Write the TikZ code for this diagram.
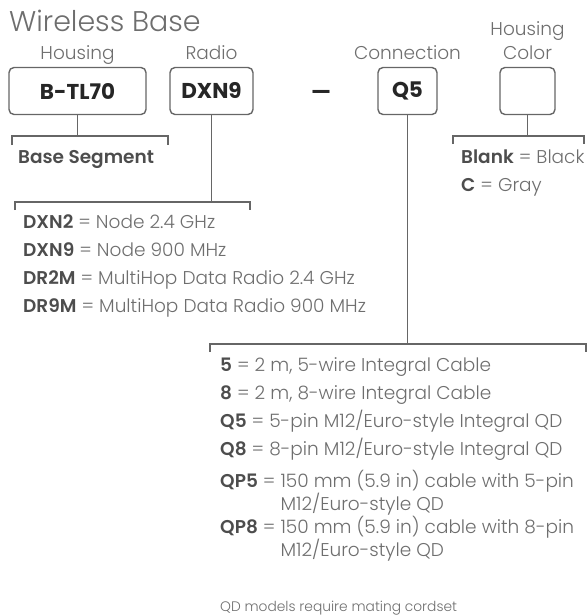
\documentclass[tikz,border=0pt]{standalone}
\usepackage{fontspec}
\setmainfont{Poppins}
\newfontfamily\lightfont{Poppins Light}
\newfontfamily\keyfont{Poppins SemiBold}
\usepackage{tikz}
\usetikzlibrary{positioning}
\definecolor{labelgray}{HTML}{6E6E6E}
\definecolor{keygray}{HTML}{4D4D4D}
\definecolor{rulegray}{HTML}{666666}
\tikzset{
  codebox/.style={draw=rulegray, line width=1.4pt, rounded corners=5pt, minimum height=47pt,
    inner sep=0pt, text=black!85, font=\fontsize{21.5}{24}\selectfont\bfseries},
  fieldlabel/.style={anchor=base, inner sep=0pt, text=labelgray, align=center,
    font=\lightfont\fontsize{18.5}{24}\selectfont},
  bracket/.style={draw=rulegray, line width=1.4pt},
  optrow/.style={anchor=base west, inner sep=0pt, text=labelgray,
    font=\lightfont\fontsize{18.5}{22}\selectfont},
}
\newcommand{\optkey}[2]{{\keyfont\color{keygray}#1} = #2}
\begin{document}
\begin{tikzpicture}[x=1pt,y=-1pt]
\useasboundingbox (0,0) rectangle (587,616);
\node[anchor=base west, inner sep=0pt, text=labelgray, font=\lightfont\fontsize{28.5}{30}\selectfont] (title) at (9,31) {Wireless Base};

\node[codebox, minimum width=137pt] (housing) at (77.5,91) {B-TL70};
\node[codebox, minimum width=83pt] (radio) at (211.5,91) {DXN9};
\node[text=black!85, font=\fontsize{21.5}{24}\selectfont\bfseries] (dash) at (321,95) {---};
\node[codebox, minimum width=59pt] (conn) at (407.5,91) {Q5};
\node[codebox, minimum width=55pt] (color) at (527.5,91) {};

\node[fieldlabel] (housinglbl) at ([yshift=7pt]housing.north) {Housing};
\node[fieldlabel] (radiolbl) at ([yshift=7pt]radio.north) {Radio};
\node[fieldlabel] (connlbl) at ([yshift=7pt]conn.north) {Connection};
\node[fieldlabel, anchor=south] (colorlbl) at ([yshift=7pt]color.north) {Housing\\Color};

\coordinate (hleft) at (12,136);
\coordinate (hright) at (168,136);
\draw[bracket] (housing.south) -- (housing.south |- hleft);
\draw[bracket] ([yshift=-9pt]hleft) -- (hleft) -- (hright) -- ([yshift=-9pt]hright);
\node[optrow, text=keygray, font=\keyfont\fontsize{18.5}{22}\selectfont] (segment) at (18,163) {Base Segment};

\coordinate (rleft) at (15,202);
\coordinate (rright) at (250,202);
\draw[bracket] (radio.south) -- (radio.south |- rleft);
\draw[bracket] ([yshift=-8pt]rleft) -- (rleft) -- (rright) -- ([yshift=-8pt]rright);
\node[optrow] (dxn2) at (23,228) {\optkey{DXN2}{Node 2.4 GHz}};
\node[optrow] (dxn9) at (23,256) {\optkey{DXN9}{Node 900 MHz}};
\node[optrow] (dr2m) at (23,284) {\optkey{DR2M}{MultiHop Data Radio 2.4 GHz}};
\node[optrow] (dr9m) at (23,312) {\optkey{DR9M}{MultiHop Data Radio 900 MHz}};

\coordinate (cleft) at (453,136);
\coordinate (cright) at (584,136);
\draw[bracket] (color.south) -- (color.south |- cleft);
\draw[bracket] ([yshift=-8pt]cleft) -- (cleft) -- (cright) -- ([yshift=-8pt]cright);
\node[optrow] (blank) at (461,163) {\optkey{Blank}{Black}};
\node[optrow] (gray) at (461,191) {\optkey{C}{Gray}};

\coordinate (qleft) at (210,344);
\coordinate (qright) at (586,344);
\draw[bracket] (conn.south) -- (conn.south |- qleft);
\draw[bracket] ([yshift=-8pt]qleft) -- (qleft) -- (qright) -- ([yshift=-8pt]qright);
\node[optrow] (c5) at (220,371) {\optkey{5}{2 m, 5-wire Integral Cable}};
\node[optrow] (c8) at (220,399) {\optkey{8}{2 m, 8-wire Integral Cable}};
\node[optrow] (q5) at (220,427) {\optkey{Q5}{5-pin M12/Euro-style Integral QD}};
\node[optrow] (q8) at (220,455) {\optkey{Q8}{8-pin M12/Euro-style Integral QD}};
\node[optrow] (qp5) at (220,487) {\optkey{QP5}{\begin{tabular}[t]{@{}l@{}}150 mm (5.9 in) cable with 5-pin\\M12/Euro-style QD\end{tabular}}};
\node[optrow] (qp8) at (220,533) {\optkey{QP8}{\begin{tabular}[t]{@{}l@{}}150 mm (5.9 in) cable with 8-pin\\M12/Euro-style QD\end{tabular}}};
\node[optrow, font=\lightfont\fontsize{13.8}{16}\selectfont] (note) at (220,611) {QD models require mating cordset};
\end{tikzpicture}
\end{document}
